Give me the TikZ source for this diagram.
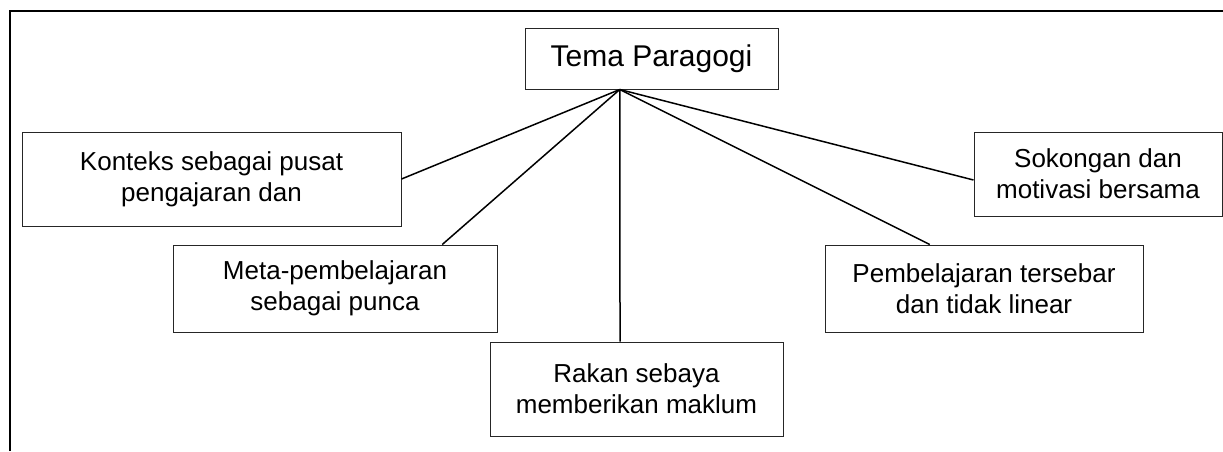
\documentclass[tikz,border=0pt]{standalone}
\usepackage{fontspec}
\setmainfont{Liberation Sans}
\usetikzlibrary{calc}
\begin{document}
\begin{tikzpicture}[x=1pt,y=-1pt,
  box/.style={draw=black!85, line width=1pt, rectangle, inner sep=0pt, align=center,
              font=\fontsize{26}{31}\selectfont},
  link/.style={line width=1.5pt, black},
  frameline/.style={line width=2pt, black}]
\useasboundingbox (0,0) rectangle (1223,451);
\coordinate (fbl) at (10,451);
\coordinate (ftl) at (10,11);
\coordinate (ftr) at (1223,11);
\draw[frameline] (fbl) -- (ftl) -- (ftr);

\node[box, minimum width=253pt, minimum height=61pt, font=\fontsize{30}{34}\selectfont] (tema) at (651.5,58.5) {Tema Paragogi};
\node[box, minimum width=379pt, minimum height=94pt] (konteks) at (211.5,179) {Konteks sebagai pusat\\pengajaran dan};
\node[box, minimum width=248pt, minimum height=84pt] (sok) at (1098,174) {Sokongan dan\\motivasi bersama};
\node[box, minimum width=324pt, minimum height=87pt] (meta) at (335,288.5) {Meta-pembelajaran\\sebagai punca};
\node[box, minimum width=318pt, minimum height=87pt] (pemb) at (984,288.5) {Pembelajaran tersebar\\dan tidak linear};
\node[box, minimum width=293pt, minimum height=94pt] (rakan) at (636.5,389) {Rakan sebaya\\memberikan maklum};

\coordinate (hub) at ($(tema.south west)!0.375!(tema.south east)$);
\coordinate (kE) at (konteks.east);
\coordinate (sW) at ($(sok.west)+(0,6)$);
\coordinate (mN) at ($(meta.north west)!0.83!(meta.north east)$);
\coordinate (rN) at ($(rakan.north west)!0.444!(rakan.north east)$);
\coordinate (pN) at ($(pemb.north west)!0.33!(pemb.north east)$);

\draw[link] (hub) -- (kE);
\draw[link] (hub) -- (mN);
\draw[link] (hub) -- (rN);
\draw[link] (hub) -- (pN);
\draw[link] (hub) -- (sW);
\end{tikzpicture}
\end{document}
